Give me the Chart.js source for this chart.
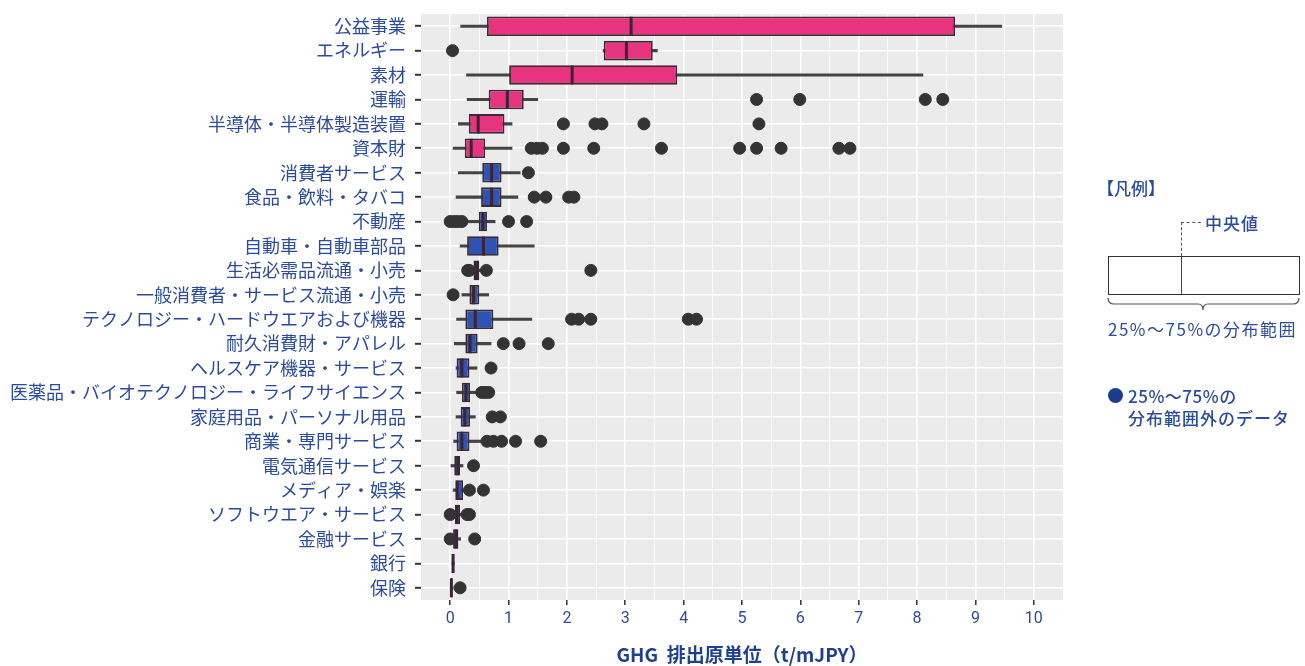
<!DOCTYPE html>
<html>
<head>
<meta charset="utf-8">
<script src="https://cdn.jsdelivr.net/npm/chart.js@4"></script>
<style>
  body { margin: 0; background: #fff; font-family: "Noto Sans CJK JP", "Noto Sans", sans-serif; }
  #wrap { position: absolute; left: 0; top: 0; width: 1305px; height: 666px; }
  .lg { position: absolute; color: #2B4C9B; white-space: nowrap; }
</style>
</head>
<body>
<div id="wrap"><canvas id="myChart" width="1305" height="666"></canvas></div>

<div class="lg" style="left:1097px;top:175px;font-size:17px;font-weight:500;">【凡例】</div>
<div style="position:absolute;left:1181px;top:222px;width:0;height:34px;border-left:1px dashed #555;"></div>
<div style="position:absolute;left:1181px;top:222px;width:20px;height:0;border-top:1px dashed #555;"></div>
<div class="lg" style="left:1205px;top:210px;font-size:17px;font-weight:500;letter-spacing:1px;">中央値</div>
<div style="position:absolute;left:1108px;top:256px;width:190px;height:37px;border:1px solid #333;"></div>
<div style="position:absolute;left:1181px;top:256px;width:0;height:38px;border-left:1.5px solid #444;"></div>
<svg style="position:absolute;left:1104px;top:296px;" width="200" height="20">
  <path d="M4 2 Q4 8 10 8 L94 8 Q99 8 99 14 Q99 8 104 8 L189 8 Q195 8 195 2" fill="none" stroke="#555" stroke-width="1.2"/>
</svg>
<div class="lg" style="left:1108px;top:316px;font-size:17px;letter-spacing:1.5px;">25%～75%の分布範囲</div>
<div style="position:absolute;left:1108px;top:388px;width:15px;height:15px;border-radius:50%;background:#1B3C8C;"></div>
<div class="lg" style="left:1128px;top:383px;font-size:17px;font-weight:500;letter-spacing:0.5px;">25%～75%の</div>
<div class="lg" style="left:1128px;top:405px;font-size:17px;font-weight:500;letter-spacing:1px;">分布範囲外のデータ</div>

<script>
var categories = ["公益事業", "エネルギー", "素材", "運輸", "半導体・半導体製造装置", "資本財",
    "消費者サービス", "食品・飲料・タバコ", "不動産", "自動車・自動車部品", "生活必需品流通・小売",
    "一般消費者・サービス流通・小売", "テクノロジー・ハードウエアおよび機器", "耐久消費財・アパレル",
    "ヘルスケア機器・サービス", "医薬品・バイオテクノロジー・ライフサイエンス", "家庭用品・パーソナル用品",
    "商業・専門サービス", "電気通信サービス", "メディア・娯楽", "ソフトウエア・サービス", "金融サービス",
    "銀行", "保険"]
var whiskerLow  = [0.18, 2.62, 0.28, 0.29, 0.14, 0.05, 0.14, 0.10, 0.29, 0.17, 0.36, 0.20, 0.11, 0.07, 0.10, 0.11, 0.10, 0.06, 0.00, 0.05, 0.05, 0.02, 0.03, 0.00]
var q1          = [0.63, 2.63, 1.01, 0.66, 0.32, 0.25, 0.55, 0.53, 0.49, 0.29, 0.40, 0.33, 0.26, 0.26, 0.11, 0.20, 0.18, 0.11, 0.07, 0.09, 0.08, 0.05, 0.04, 0.01]
var median      = [3.10, 3.02, 2.09, 0.98, 0.48, 0.36, 0.71, 0.71, 0.56, 0.57, 0.45, 0.40, 0.43, 0.34, 0.20, 0.27, 0.25, 0.20, 0.13, 0.12, 0.12, 0.10, 0.05, 0.02]
var q3          = [8.65, 3.47, 3.89, 1.26, 0.93, 0.60, 0.88, 0.88, 0.63, 0.83, 0.50, 0.50, 0.74, 0.47, 0.33, 0.34, 0.34, 0.33, 0.17, 0.22, 0.17, 0.14, 0.06, 0.04]
var whiskerHigh = [9.45, 3.55, 8.10, 1.50, 1.06, 1.06, 1.20, 1.16, 0.77, 1.44, 0.55, 0.66, 1.40, 0.70, 0.46, 0.47, 0.43, 0.54, 0.22, 0.25, 0.22, 0.18, 0.07, 0.05]
var outliers = [
    [],
    [0.04],
    [],
    [5.25, 5.99, 8.14, 8.44],
    [1.94, 2.48, 2.60, 3.32, 5.29],
    [1.39, 1.49, 1.58, 1.94, 2.46, 3.62, 4.96, 5.25, 5.67, 6.66, 6.85],
    [1.34],
    [1.44, 1.64, 2.03, 2.12],
    [0.00, 0.07, 0.13, 0.20, 1.00, 1.31],
    [],
    [0.30, 0.33, 0.62, 2.41],
    [0.05],
    [2.08, 2.20, 2.41, 4.08, 4.22],
    [0.91, 1.18, 1.68],
    [0.70],
    [0.54, 0.60, 0.66],
    [0.72, 0.86],
    [0.63, 0.74, 0.88, 1.12, 1.55],
    [0.40],
    [0.33, 0.57],
    [0.00, 0.29, 0.33],
    [0.00, 0.42],
    [],
    [0.17]
]
var xTickLabels = ["0", "1", "2", "3", "4", "5", "6", "7", "8", "9", "10"]

var pink = '#E8337F'
var blue = '#2D54B3'
var labelColor = '#2B4C9B'

var boxColors = categories.map((c, i) => i < 6 ? pink : blue)
var whiskers = categories.map((c, i) => [whiskerLow[i], whiskerHigh[i]])
var boxes = categories.map((c, i) => [q1[i], q3[i]])
var medians = categories.map((c, i) => ({ x: median[i], y: c }))
var points = []
outliers.forEach((list, i) => {
    list.forEach(v => points.push({ x: v, y: categories[i] }))
})

////----- grey panel behind the grid
var panelBg = {
    id: 'panelBg',
    beforeDraw(chart) {
        var a = chart.chartArea
        var ctx = chart.ctx
        ctx.save()
        ctx.fillStyle = '#EBEBEB'
        ctx.fillRect(a.left, a.top, a.right - a.left, a.bottom - a.top)
        ctx.restore()
    }
}

var ctx = document.getElementById('myChart').getContext('2d');
var myChart = new Chart(ctx, {
    type: 'bar',
    data: {
        labels: categories,
        datasets: [{
            type: 'scatter',
            data: points,
            backgroundColor: '#333333',
            borderColor: '#333333',
            pointRadius: 6,
            order: 0
        }, {
            type: 'scatter',
            data: medians,
            pointStyle: 'line',
            rotation: 90,
            pointRadius: 9.5,
            borderColor: '#3A2436',
            borderWidth: 3,
            order: 1
        }, {
            indexAxis: 'y',
            data: boxes,
            backgroundColor: boxColors,
            borderColor: '#3A2B36',
            borderWidth: 1.8,
            borderSkipped: false,
            barPercentage: 0.8,
            categoryPercentage: 1,
            grouped: false,
            order: 2
        }, {
            indexAxis: 'y',
            data: whiskers,
            backgroundColor: '#444444',
            barThickness: 2.5,
            grouped: false,
            order: 3
        }]
    },
    plugins: [panelBg],
    options: {
        responsive: false,
        animation: false,
        layout: { padding: { left: 0, right: 242, top: 14, bottom: 0 } },
        plugins: {
            legend: { display: false },
            tooltip: { enabled: false }
        },
        scales: {
            x: {
                type: 'linear',
                position: 'bottom',
                min: -0.5,
                max: 10.5,
                offset: false,
                afterFit: s => { s.height = 66 },
                border: { display: false },
                grid: {
                    offset: false,
                    color: c => (c.tick && (c.tick.value <= -0.5 || c.tick.value >= 10.5)) ? 'rgba(0,0,0,0)' : '#FFFFFF',
                    lineWidth: c => (c.tick && Number.isInteger(c.tick.value)) ? 1.6 : 0.8,
                    tickColor: c => (c.tick && Number.isInteger(c.tick.value) && c.tick.value >= 0) ? '#333333' : 'rgba(0,0,0,0)',
                    tickLength: 5,
                    tickWidth: 1.5
                },
                ticks: {
                    stepSize: 0.5,
                    autoSkip: false,
                    maxRotation: 0,
                    padding: 4,
                    color: labelColor,
                    font: { family: 'Roboto, "Noto Sans", sans-serif', size: 16 },
                    callback: v => (Number.isInteger(v) && v >= 0) ? xTickLabels[v] : ''
                },
                title: {
                    display: true,
                    text: 'GHG  排出原単位（t/mJPY）',
                    color: '#1F3F8F',
                    font: { family: '"Noto Sans CJK JP", sans-serif', size: 19, weight: 'bold' },
                    padding: { top: 0, bottom: 0 }
                }
            },
            y: {
                type: 'category',
                position: 'left',
                offset: true,
                afterFit: s => { s.width = 421; s.paddingTop = 0; s.paddingBottom = 0 },
                border: { display: false },
                grid: {
                    offset: false,
                    color: '#FFFFFF',
                    lineWidth: 1.6,
                    tickColor: '#333333',
                    tickLength: 6,
                    tickWidth: 2
                },
                ticks: {
                    autoSkip: false,
                    padding: 9,
                    color: labelColor,
                    font: { family: '"Noto Sans CJK JP", sans-serif', size: 18 }
                }
            }
        }
    }
});
</script>
</body>
</html>
